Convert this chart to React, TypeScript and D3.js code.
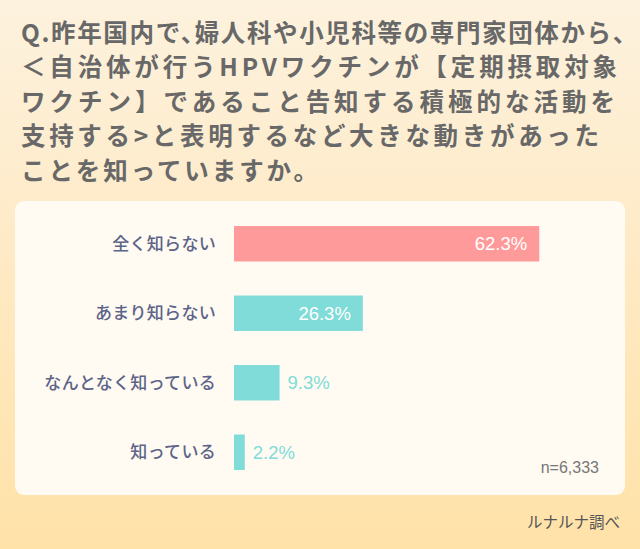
import React from "react";
import * as d3 from "d3";

const titleLines = [
  "Q.昨年国内で、婦人科や小児科等の専門家団体から、",
  "＜自治体が行うHPVワクチンが【定期摂取対象",
  "ワクチン】であること告知する積極的な活動を",
  "支持する>と表明するなど大きな動きがあった",
  "ことを知っていますか。",
];
const titleWidths = [604, 596, 594, 578, 297];
const categories = ["全く知らない", "あまり知らない", "なんとなく知っている", "知っている"];
const values = [62.3, 26.3, 9.3, 2.2];
const barColors = ["#ff9a9a", "#80dcd8", "#80dcd8", "#80dcd8"];
const sampleNote = "n=6,333";
const sourceNote = "ルナルナ調べ";

const W = 640;
const H = 549;

export default function App() {
  const x = d3.scaleLinear().domain([0, 100]).range([234, 724]);
  const y = d3.scaleBand<string>().domain(categories).range([209, 487]).paddingInner(0.49).paddingOuter(0.245);
  const font = "'Noto Sans CJK JP', 'Noto Sans', sans-serif";
  const numFont = "'Liberation Sans', Arial, sans-serif";
  return (
    <div style={{ position: "fixed", left: 0, top: 0 }}>
      <svg width={W} height={H} style={{ display: "block" }}>
        <defs>
          <linearGradient id="bg" x1="0" y1="0" x2="0" y2="1">
            <stop offset="0" stopColor="#fdf2de" />
            <stop offset="0.45" stopColor="#feeac6" />
            <stop offset="1" stopColor="#ffe2a8" />
          </linearGradient>
        </defs>
        <rect x={0} y={0} width={W} height={H} fill="url(#bg)" />
        {titleLines.map((t, i) => (
          <text key={i} x={21} y={42 + i * 34.4} fontFamily={font} fontWeight={600} fontSize={24.5}
            fill="#686868" textLength={titleWidths[i]} lengthAdjust="spacing"
            style={i === 0 ? { fontFeatureSettings: "'halt'" } : undefined}>{t}</text>
        ))}
        <rect x={15} y={201} width={610} height={294} rx={9} fill="#fffaf2" />
        {categories.map((c, i) => {
          const y0 = y(c)!;
          const bw = y.bandwidth();
          const xe = x(values[i]);
          const inside = xe - x(0) > 80;
          return (
            <g key={c}>
              <rect x={x(0)} y={y0} width={xe - x(0)} height={bw} fill={barColors[i]} />
              <text x={216} y={y0 + bw / 2} dy="0.35em" textAnchor="end" fontFamily={font} fontSize={17}
                fontWeight={500} fill="#5c6488" letterSpacing={0.3}>{c}</text>
              <text x={inside ? xe - 12 : xe + 8} y={y0 + bw / 2} dy="0.36em" textAnchor={inside ? "end" : "start"}
                fontFamily={numFont} fontSize={18.5} fill={inside ? "#ffffff" : "#80dcd8"}>
                {values[i].toFixed(1)}%
              </text>
            </g>
          );
        })}
        <text x={599} y={467} dy="0.36em" textAnchor="end" fontFamily={numFont} fontSize={16}
          fill="#777777">{sampleNote}</text>
        <text x={620} y={522} dy="0.36em" textAnchor="end" fontFamily={font} fontSize={15.5}
          fill="#555555">{sourceNote}</text>
      </svg>
    </div>
  );
}
